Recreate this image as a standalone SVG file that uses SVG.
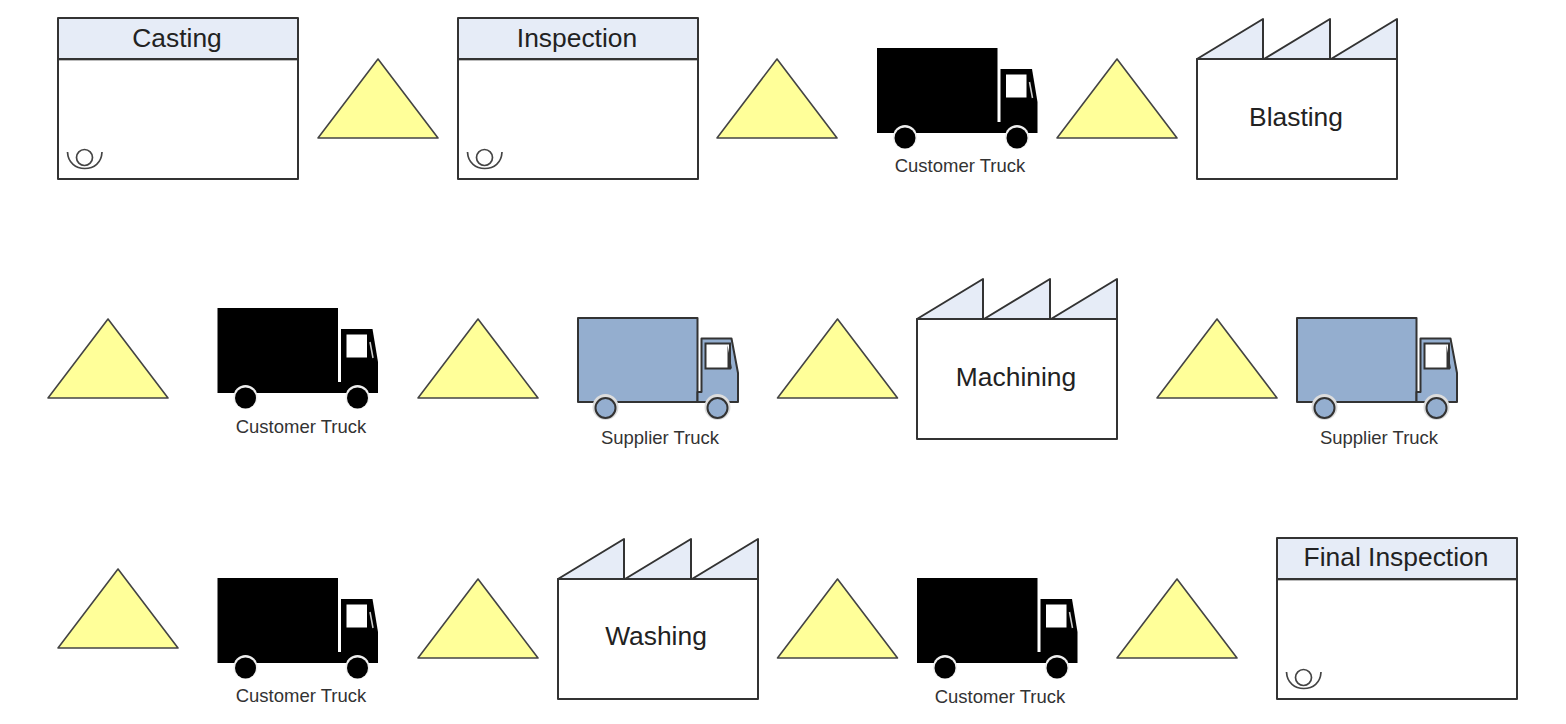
<svg xmlns="http://www.w3.org/2000/svg" width="1566" height="724" viewBox="0 0 1566 724">
<style>
.ln{stroke:#333;stroke-width:2;stroke-linejoin:round;stroke-linecap:round}
.tri{fill:#ffff99;stroke:#444;stroke-width:1.6;stroke-linejoin:round}
.box{fill:#fff}
.hdr{fill:#e6ecf7}
.op{fill:none;stroke:#444;stroke-width:1.7}
.title{font-family:"Liberation Sans",Arial,sans-serif;font-size:26.4px;fill:#222;text-anchor:middle}
.cap{font-family:"Liberation Sans",Arial,sans-serif;font-size:18.5px;fill:#333;text-anchor:middle}
.blk{fill:#000}
.sup{fill:#94aecf;stroke:#333;stroke-width:2;stroke-linejoin:round}
.win{fill:#fff}
</style>
<defs>
<polygon id="tri" class="tri" points="60,0 120,79 0,79"/>
<g id="proc">
<rect class="box ln" x="0" y="0" width="240" height="161"/>
<rect class="hdr" x="1" y="1" width="238" height="40"/>
<path d="M1,42.500H239" stroke="#bbb" stroke-width="1" fill="none"/>
<path class="ln" d="M0,41H240"/>
<path class="op" d="M9.500,134C10,145 18,150.500 26.750,150.500C36,150.500 43.500,145 44,134"/>
<circle class="op" cx="26.500" cy="139.500" r="8"/>
</g>
<g id="fact">
<rect class="box ln" x="0" y="40" width="200" height="120"/>
<path class="hdr ln" d="M0,40L66,0V40Z"/>
<path class="hdr ln" d="M67,40L133,0V40Z"/>
<path class="hdr ln" d="M134,40L200,0V40Z"/>
</g>
<g id="tb">
<rect class="blk" x="0" y="0" width="120.500" height="85"/>
<path class="blk" d="M123.500,85V21H155L160.500,54V85Z"/>
<rect class="blk" x="118" y="74" width="8" height="11"/>
<rect class="win" x="129" y="26.500" width="20.500" height="23"/>
<path d="M152.500,34L155.500,50" stroke="#ccc" stroke-width="1.500" fill="none"/>
<circle cx="28" cy="89" r="12" fill="#eee"/>
<circle cx="140" cy="89" r="12" fill="#eee"/>
<circle class="blk" cx="28" cy="90" r="10.500"/>
<circle class="blk" cx="140" cy="90" r="10.500"/>
</g>
<g id="ts">
<path class="sup" d="M0,84V0H119.500V84Z"/>
<path class="sup" d="M119.500,84V74H123.500V20.500H153.500L160,55V84Z"/>
<rect class="win" x="127.500" y="25.500" width="24.500" height="25" stroke="#333" stroke-width="2"/>
<path d="M149.500,27L154,50.500L149.500,50.500Z" fill="#333"/>
<circle cx="27.500" cy="89" r="13" fill="#ddd"/>
<circle cx="139.500" cy="89" r="13" fill="#ddd"/>
<circle cx="27.500" cy="90" r="10" class="sup"/>
<circle cx="139.500" cy="90" r="10" class="sup"/>
</g>
</defs>
<rect width="1566" height="724" fill="#fff"/>
<g id="connectors"/>

<g id="casting"><use href="#proc" x="58" y="18"/><text class="title" x="177" y="47">Casting</text></g>
<g id="inv1"><use href="#tri" x="318" y="59"/></g>
<g id="inspection"><use href="#proc" x="458" y="18"/><text class="title" x="577" y="47">Inspection</text></g>
<g id="inv2"><use href="#tri" x="717" y="59"/></g>
<g id="truck1"><use href="#tb" x="877" y="48"/><text class="cap" x="960" y="172">Customer Truck</text></g>
<g id="inv3"><use href="#tri" x="1057" y="59"/></g>
<g id="blasting"><use href="#fact" x="1197" y="19"/><text class="title" x="1296" y="126">Blasting</text></g>

<g id="inv4"><use href="#tri" x="48" y="319"/></g>
<g id="truck2"><use href="#tb" x="217.500" y="308"/><text class="cap" x="301" y="433">Customer Truck</text></g>
<g id="inv5"><use href="#tri" x="418" y="319"/></g>
<g id="truck3"><use href="#ts" x="578" y="318"/><text class="cap" x="660" y="444">Supplier Truck</text></g>
<g id="inv6"><use href="#tri" x="777.500" y="319"/></g>
<g id="machining"><use href="#fact" x="917" y="279"/><text class="title" x="1016" y="386">Machining</text></g>
<g id="inv7"><use href="#tri" x="1157" y="319"/></g>
<g id="truck4"><use href="#ts" x="1297" y="318"/><text class="cap" x="1379" y="444">Supplier Truck</text></g>

<g id="inv8"><use href="#tri" x="58" y="569"/></g>
<g id="truck5"><use href="#tb" x="217.500" y="578"/><text class="cap" x="301" y="702">Customer Truck</text></g>
<g id="inv9"><use href="#tri" x="418" y="579"/></g>
<g id="washing"><use href="#fact" x="558" y="539"/><text class="title" x="656" y="645">Washing</text></g>
<g id="inv10"><use href="#tri" x="777.500" y="579"/></g>
<g id="truck6"><use href="#tb" x="917" y="578"/><text class="cap" x="1000" y="703">Customer Truck</text></g>
<g id="inv11"><use href="#tri" x="1117" y="579"/></g>
<g id="final"><use href="#proc" x="1277" y="538"/><text class="title" x="1396" y="566">Final Inspection</text></g>
</svg>
